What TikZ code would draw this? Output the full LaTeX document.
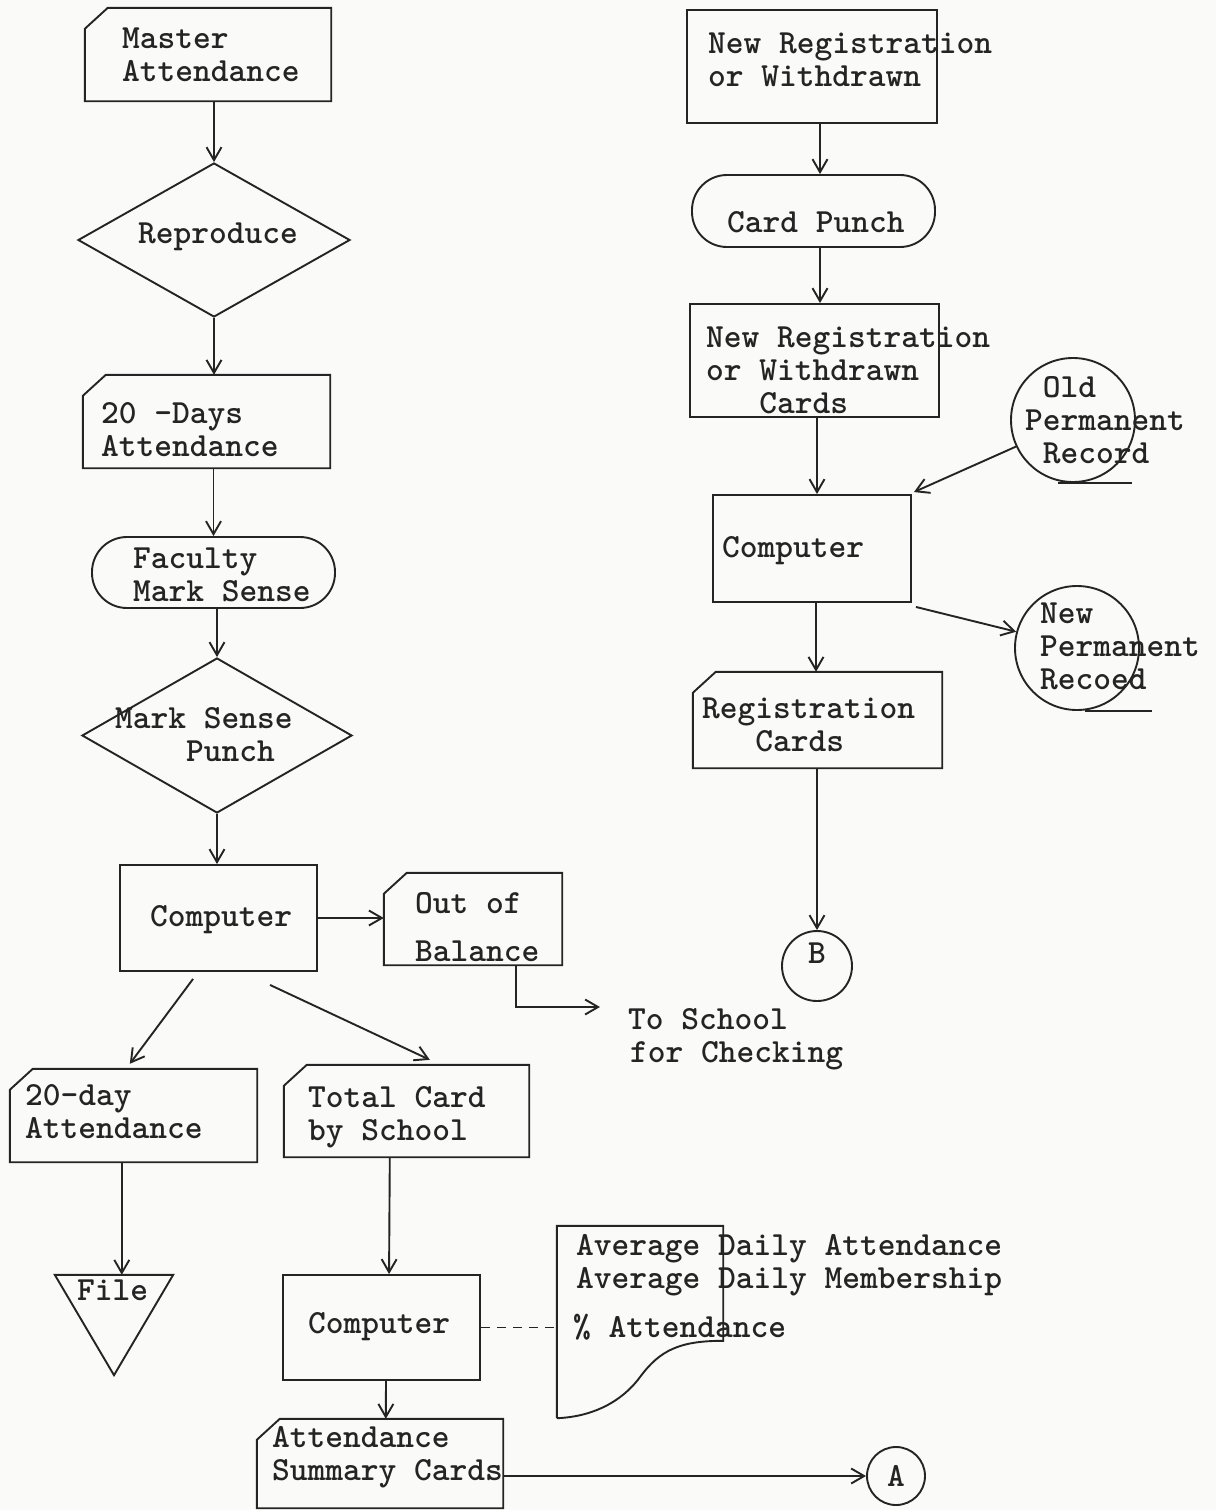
\documentclass[tikz,border=0pt]{standalone}
\usetikzlibrary{shapes.geometric,arrows.meta,calc}
\definecolor{ink}{RGB}{36,36,36}
\definecolor{paper}{RGB}{250,250,248}
\newcommand\tyf{\ttfamily\bfseries\fontsize{33.8}{33}\selectfont}
\newcommand\cardpath[1]{\draw[shp] (#1.south west) -- ($(#1.north west)+(0,21)$) -- ($(#1.north west)+(23,0)$) -- (#1.north east) -- (#1.south east) -- cycle;}
\begin{document}
\begin{tikzpicture}[x=1pt,y=-1pt,
  shp/.style={draw=ink, line width=1.9pt, inner sep=0pt},
  hid/.style={rectangle, draw=none, inner sep=0pt},
  lbl/.style={anchor=base west, inner sep=0pt, font=\tyf, text=ink},
  arr/.style={draw=ink, line width=1.9pt, -{Straight Barb[length=13pt,width=15pt]}},
  dashline/.style={draw=ink, line width=1.9pt, dash pattern=on 9pt off 7pt}]
\useasboundingbox[fill=paper] (0,0) rectangle (1216,1510);

% ---------- left column ----------
\node[hid, minimum width=246pt, minimum height=93pt] (ma) at (208,54.5) {};
\cardpath{ma}
\node[lbl] (ma-t) at (122,48) {\vtop{\hbox{Master}\hbox{Attendance}}};

\node[shp, diamond, minimum width=272pt, minimum height=154pt] (rep) at (214,240) {};
\node[lbl] (rep-t) at (138,243) {Reproduce};

\node[hid, minimum width=247pt, minimum height=93pt] (d20) at (206.5,421.5) {};
\cardpath{d20}
\node[lbl] (d20-t) at (101,423) {\vtop{\hbox{20 -Days}\hbox{Attendance}}};

\node[shp, rectangle, rounded corners=35pt, minimum width=243pt, minimum height=71pt] (fac) at (213.5,572.5) {};
\node[lbl] (fac-t) at (133,568) {\vtop{\hbox{Faculty}\hbox{Mark Sense}}};

\node[shp, diamond, minimum width=270pt, minimum height=155pt] (msp) at (217,735.5) {};
\node[lbl] (msp-t) at (115,728) {\vtop{\hbox{Mark Sense}\hbox{\hphantom{Mark}Punch}}};

\node[shp, rectangle, minimum width=197pt, minimum height=106pt] (comp1) at (218.5,918) {};
\node[lbl] (comp1-t) at (150,926) {Computer};

\node[hid, minimum width=178pt, minimum height=92pt] (oob) at (473,919) {};
\cardpath{oob}
\node[lbl] (oob-t) at (415,913) {\vtop{\hbox{Out of}\kern15pt\hbox{Balance}}};

\coordinate (tsin) at (600,1007);
\node[lbl] (ts-t) at (628,1029) {\vtop{\hbox{To School}\hbox{\kern2pt for Checking}}};

\node[hid, minimum width=247pt, minimum height=93pt] (d20b) at (133.5,1115.5) {};
\cardpath{d20b}
\node[lbl] (d20b-t) at (25,1105) {\vtop{\hbox{20-day}\hbox{Attendance}}};

\node[hid, minimum width=245pt, minimum height=92pt] (tc) at (406.5,1111) {};
\cardpath{tc}
\node[lbl] (tc-t) at (308,1107) {\vtop{\hbox{Total Card}\hbox{by School}}};

\node[hid, minimum width=118pt, minimum height=100pt] (file) at (114,1325) {};
\draw[shp] (file.north west) -- (file.north east) -- (file.south) -- cycle;
\node[lbl] (file-t) at (77,1300) {File};

\node[shp, rectangle, minimum width=197pt, minimum height=105pt] (comp2) at (381.5,1327.5) {};
\node[lbl] (comp2-t) at (308,1333) {Computer};

\node[hid, minimum width=166pt, minimum height=192pt] (doc) at (640,1322) {};
\draw[shp] (doc.south west) -- (doc.north west) -- (doc.north east) -- ($(doc.north east)+(0,115)$)
  .. controls ($(doc.north east)+(-43,115)$) and ($(doc.north east)+(-63,124)$) .. ($(doc.north east)+(-83,151)$)
  .. controls ($(doc.north east)+(-103,178)$) and ($(doc.north east)+(-133,191)$) .. (doc.south west);
\node[lbl] (doc-t) at (576,1255) {\vtop{\hbox{Average Daily Attendance}\hbox{Average Daily Membership}\kern16pt\hbox{\kern-3pt\% Attendance}}};

\node[hid, minimum width=246pt, minimum height=89pt] (asc) at (380,1463.5) {};
\cardpath{asc}
\node[lbl] (asc-t) at (272,1447) {\vtop{\hbox{Attendance}\hbox{Summary Cards}}};

\node[shp, circle, minimum size=58pt, font=\tyf, text=ink] (A) at (896,1476) {A};

% ---------- right column ----------
\node[shp, rectangle, minimum width=250pt, minimum height=113pt] (nr1) at (812,66.5) {};
\node[lbl] (nr1-t) at (708,53) {\vtop{\hbox{New Registration}\hbox{or Withdrawn}}};

\node[shp, rectangle, rounded corners=35pt, minimum width=243pt, minimum height=72pt] (cp) at (813.5,211) {};
\node[lbl] (cp-t) at (727,232) {Card Punch};

\node[shp, rectangle, minimum width=249pt, minimum height=113pt] (nr2) at (814.5,360.5) {};
\node[lbl] (nr2-t) at (706,347) {\vtop{\hbox{New Registration}\hbox{or Withdrawn}\hbox{\hphantom{or }Cards}}};

\node[shp, rectangle, minimum width=198pt, minimum height=107pt] (comp3) at (812,548.5) {};
\node[lbl] (comp3-t) at (722,557) {Computer};

\node[shp, circle, minimum size=124pt] (opr) at (1073,420) {};
\draw[shp] ($(opr.south)+(-15,0)$) -- ++(74,0);
\node[lbl] (opr-t) at (1025,397) {\vtop{\hbox{\hphantom{P}Old}\hbox{Permanent}\hbox{\hphantom{P}Record}}};

\node[shp, circle, minimum size=124pt] (npr) at (1077,648) {};
\draw[shp] ($(npr.south)+(8,0)$) -- ++(67,0);
\node[lbl] (npr-t) at (1040,623) {\vtop{\hbox{New}\hbox{Permanent}\hbox{Recoed}}};

\node[hid, minimum width=249pt, minimum height=96pt] (rc) at (817.5,720) {};
\cardpath{rc}
\node[lbl] (rc-t) at (702,718) {\vtop{\hbox{Registration}\hbox{\hphantom{Reg}Cards}}};

\node[shp, circle, minimum size=70pt] (B) at (817,966) {};
\node[anchor=base, inner sep=0pt, font=\tyf, text=ink] (B-t) at (817,963) {B};

% ---------- connectors ----------
\draw[arr] (rep.north |- ma.south) -- (rep.north);
\draw[arr] (rep.south) -- (rep.south |- d20.north);
\draw[arr] (fac.north |- d20.south) -- (fac.north);
\draw[arr] (msp.north |- fac.south) -- (msp.north);
\draw[arr] (msp.south) -- (msp.south |- comp1.north);
\draw[arr] (comp1.east) -- (comp1.east -| oob.west);
\draw[arr] ($(oob.south west)+(132,0)$) |- (tsin);
\draw[arr] ($(comp1.south west)+(74,7)$) -- ($(d20b.north west)+(120,-5)$);
\draw[arr] ($(comp1.south west)+(151,13)$) -- ($(tc.north west)+(146,-5)$);
\draw[arr] ($(d20b.south west)+(112,0)$) -- ($(file.north west)+(67,0)$);
\draw[arr] ($(tc.south west)+(106,0)$) -- ($(comp2.north west)+(107,0)$);
\draw[dashline] (comp2.east) -- (comp2.east -| doc.west);
\draw[arr] ($(comp2.south)+(4.5,0)$) -- ($(asc.north west)+(129,0)$);
\draw[arr] (A.west -| asc.east) -- (A.west);

\draw[arr] ($(nr1.south)+(8,0)$) -- ($(cp.north)+(6.5,0)$);
\draw[arr] ($(cp.south)+(6.5,0)$) -- ($(nr2.north)+(5.5,0)$);
\draw[arr] ($(nr2.south)+(2.5,0)$) -- ($(comp3.north)+(5,0)$);
\draw[arr] (opr.205) -- ($(comp3.north east)+(2,-2)$);
\draw[arr] ($(comp3.south east)+(4,4)$) -- (npr.165);
\draw[arr] ($(comp3.south)+(4,0)$) -- ($(rc.north)+(-1.5,0)$);
\draw[arr] (rc.south -| B.north) -- (B.north);
\end{tikzpicture}
\end{document}
